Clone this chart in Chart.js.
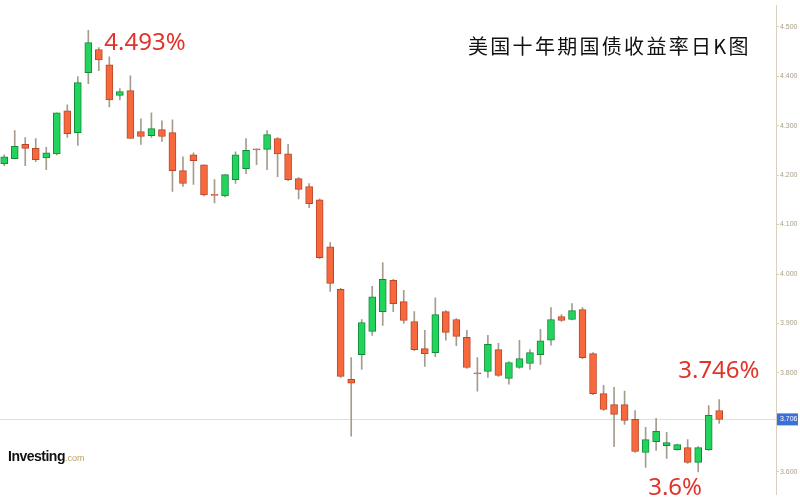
<!DOCTYPE html>
<html>
<head>
<meta charset="utf-8">
<script src="https://cdn.jsdelivr.net/npm/chart.js@4/dist/chart.umd.min.js"></script>
<style>
  body { margin: 0; background: #fff; }
  #wrap { width: 800px; height: 500px; position: relative; }
</style>
</head>
<body>
<div id="wrap"><canvas id="chart"></canvas></div>
<script>
// daily candles (yield in %)
const opens  = [4.223,4.233,4.262,4.254,4.235,4.243,4.330,4.286,4.407,4.454,4.423,4.361,4.371,4.288,4.280,4.292,4.286,4.209,4.241,4.221,4.161,4.158,4.191,4.213,4.253,4.252,4.274,4.243,4.193,4.177,4.150,4.055,3.969,3.787,3.837,3.884,3.924,3.987,3.944,3.904,3.849,3.841,3.924,3.908,3.872,3.800,3.803,3.847,3.789,3.811,3.819,3.837,3.866,3.914,3.908,3.928,3.839,3.758,3.736,3.736,3.706,3.639,3.661,3.653,3.645,3.649,3.619,3.645,3.724];
const highs  = [4.241,4.290,4.276,4.274,4.256,4.326,4.342,4.399,4.493,4.458,4.439,4.375,4.401,4.314,4.326,4.310,4.312,4.237,4.245,4.221,4.191,4.201,4.247,4.274,4.253,4.290,4.276,4.262,4.195,4.183,4.152,4.064,3.971,3.831,3.908,3.975,4.023,3.989,3.967,3.924,3.886,3.952,3.926,3.910,3.886,3.831,3.876,3.860,3.823,3.866,3.847,3.888,3.932,3.918,3.940,3.932,3.841,3.775,3.771,3.763,3.724,3.690,3.708,3.680,3.656,3.665,3.651,3.734,3.746];
const lows   = [4.219,4.233,4.219,4.227,4.211,4.241,4.276,4.260,4.385,4.411,4.338,4.352,4.274,4.262,4.276,4.268,4.167,4.177,4.181,4.158,4.144,4.156,4.183,4.203,4.221,4.211,4.197,4.189,4.152,4.134,4.031,3.965,3.791,3.672,3.807,3.876,3.896,3.924,3.900,3.845,3.813,3.833,3.866,3.855,3.809,3.763,3.791,3.793,3.777,3.809,3.807,3.817,3.856,3.904,3.907,3.829,3.756,3.724,3.651,3.696,3.639,3.609,3.643,3.627,3.644,3.617,3.600,3.643,3.698];
const closes = [4.237,4.258,4.254,4.231,4.245,4.326,4.284,4.387,4.468,4.433,4.352,4.369,4.274,4.278,4.294,4.278,4.209,4.183,4.229,4.160,4.159,4.201,4.241,4.250,4.251,4.282,4.243,4.191,4.171,4.142,4.033,3.981,3.793,3.779,3.902,3.954,3.989,3.940,3.906,3.847,3.839,3.918,3.882,3.874,3.811,3.798,3.858,3.795,3.821,3.829,3.841,3.865,3.908,3.906,3.926,3.831,3.758,3.726,3.716,3.704,3.641,3.665,3.682,3.659,3.655,3.619,3.649,3.714,3.706];

const yTicks = [3.6, 3.7, 3.8, 3.9, 4.0, 4.1, 4.2, 4.3, 4.4, 4.5];
const lastPrice = 3.706;
const title = '美国十年期国债收益率日K图';
const highNote = '4.493%';
const rightNote = '3.746%';
const lowNote = '3.6%';

const UP = '#22d45c', UP_EDGE = '#128a3c';
const DOWN = '#f7693c', DOWN_EDGE = '#b8482c';
const WICK = '#a59c8e';

const isUp = opens.map((o, i) => closes[i] >= o);

// make flat candles at least a hair tall so they still show
const bodies = opens.map((o, i) => {
  let c = closes[i];
  if (Math.abs(c - o) < 0.002) c = o - 0.002;
  return { x: i, y: [o, c] };
});
const wicks = lows.map((l, i) => ({ x: i, y: [l, highs[i]] }));

const overlay = {
  id: 'overlay',
  beforeDatasetsDraw(chart) {
    const { ctx, chartArea, scales } = chart;
    const y = Math.round(scales.y.getPixelForValue(lastPrice)) + 0.5;
    ctx.save();
    ctx.strokeStyle = '#e8dfc4';
    ctx.lineWidth = 1;
    ctx.beginPath();
    ctx.moveTo(chartArea.left, y);
    ctx.lineTo(chartArea.right, y);
    ctx.stroke();
    ctx.restore();
  },
  afterDraw(chart) {
    const { ctx, chartArea, scales } = chart;
    const x = scales.x, y = scales.y;
    ctx.save();

    // last price tag on the axis
    const py = y.getPixelForValue(lastPrice);
    ctx.fillStyle = '#3d6fd8';
    ctx.fillRect(chartArea.right + 1, py - 6, 21, 12);
    ctx.fillStyle = '#fff';
    ctx.font = '7px "Liberation Sans", Arial, sans-serif';
    ctx.textBaseline = 'middle';
    ctx.textAlign = 'left';
    ctx.fillText(lastPrice.toFixed(3), chartArea.right + 4, py);

    // title
    ctx.fillStyle = '#111';
    ctx.font = '20px "Noto Sans CJK SC", sans-serif';
    ctx.letterSpacing = '2.3px';
    ctx.textBaseline = 'middle';
    ctx.fillText(title, 468, 46);
    ctx.letterSpacing = '0px';

    // red notes next to the extremes
    ctx.fillStyle = '#e2332a';
    ctx.font = '24px "Noto Sans", sans-serif';
    ctx.fillText(highNote, x.getPixelForValue(8) + 16, y.getPixelForValue(4.493) + 13);
    ctx.fillText(rightNote, x.getPixelForValue(68) - 41, y.getPixelForValue(3.746) - 28);
    ctx.fillText(lowNote, x.getPixelForValue(66) - 50, y.getPixelForValue(3.600) + 16);

    // watermark
    ctx.fillStyle = '#111';
    ctx.font = 'bold 14px "Liberation Sans Narrow", "Liberation Sans", Arial, sans-serif';
    ctx.letterSpacing = '-0.5px';
    ctx.textBaseline = 'alphabetic';
    ctx.fillText('Investing', 8, 461);
    const w = ctx.measureText('Investing').width;
    ctx.letterSpacing = '0px';
    ctx.fillStyle = '#b8a35a';
    ctx.font = '9px "Liberation Sans", Arial, sans-serif';
    ctx.fillText('.com', 8 + w, 461);
    ctx.restore();
  }
};

const ctx = document.getElementById('chart').getContext('2d');
new Chart(ctx, {
  type: 'bar',
  data: {
    datasets: [{
      label: 'body',
      data: bodies,
      grouped: false,
      barThickness: 7,
      backgroundColor: isUp.map(u => u ? UP : DOWN),
      borderColor: isUp.map(u => u ? UP_EDGE : DOWN_EDGE),
      borderWidth: 1,
      borderSkipped: false
    }, {
      label: 'wick',
      data: wicks,
      grouped: false,
      barThickness: 1,
      backgroundColor: WICK,
      borderWidth: 0
    }]
  },
  plugins: [overlay],
  options: {
    responsive: true,
    maintainAspectRatio: false,
    animation: false,
    layout: { padding: 0 },
    plugins: { legend: { display: false }, tooltip: { enabled: false } },
    scales: {
      x: {
        type: 'linear',
        min: -0.4,
        max: 73.4,
        offset: false,
        display: false
      },
      y: {
        position: 'right',
        min: 3.5535,
        max: 4.5436,
        afterBuildTicks: s => { s.ticks = yTicks.map(v => ({ value: v })); },
        afterFit: s => { s.width = 24; },
        grid: { drawOnChartArea: false, color: '#d9d0bf', tickLength: 3 },
        border: { color: '#d9d0bf' },
        ticks: {
          padding: 1,
          color: '#a89f85',
          font: { size: 7, family: '"Liberation Sans", Arial, sans-serif' },
          callback: v => v.toFixed(3)
        }
      }
    }
  }
});
</script>
</body>
</html>
